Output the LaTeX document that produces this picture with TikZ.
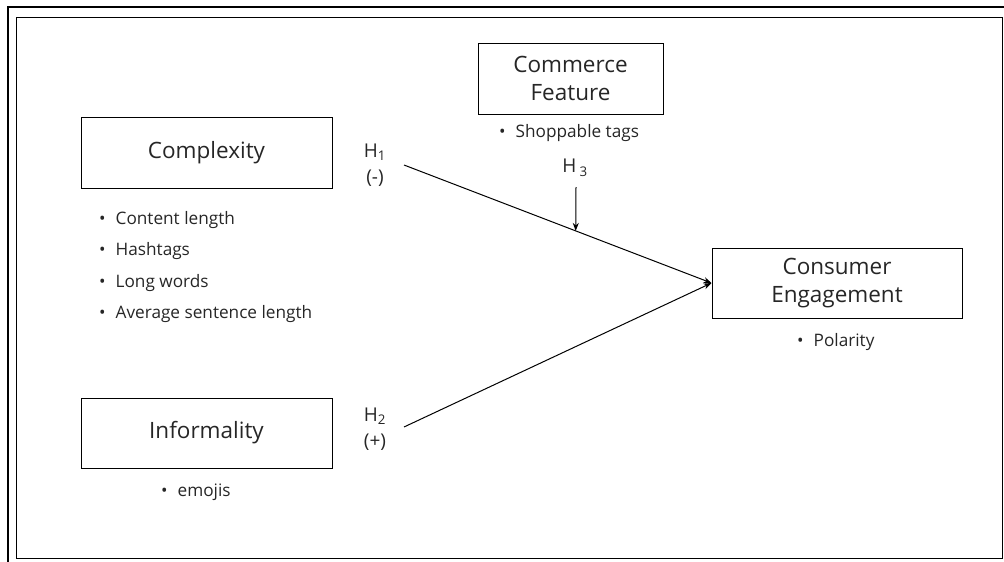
\documentclass[tikz,border=0pt]{standalone}
\usepackage{fontspec}
\setmainfont{Open Sans}
\usetikzlibrary{arrows.meta,calc}
\begin{document}
\begin{tikzpicture}[x=1pt,y=-1pt,
  box/.style={draw,line width=1pt,minimum width=#1,inner sep=0pt},
  big/.style={font=\fontsize{22.5}{28.5}\selectfont,text=black!85},
  small/.style={font=\fontsize{17.2}{20}\selectfont,text=black!85},
  conn/.style={line width=1pt,-{Stealth[length=8pt,width=6pt]}},
  hyp/.style={font=\fontsize{19}{26}\selectfont,align=center,text=black!85,inner sep=0pt}]
\useasboundingbox (0,0) rectangle (1004,562);
% frames
\draw[line width=2pt] (8,562) -- (8,7) -- (1004,7);
\draw[line width=0.8pt] (16,17) rectangle (1002,558);
% boxes
\node[box=251pt,minimum height=71pt,big] (cx) at (206.5,152.5) {Complexity};
\node[box=251pt,minimum height=70pt,big] (inf) at (206.5,433) {Informality};
\node[box=185pt,minimum height=71pt,big,align=center] (cf) at (570.5,78.5) {Commerce\\Feature};
\node[box=250pt,minimum height=70pt,big,align=center] (ce) at (837,283) {Consumer\\Engagement};
% bullet lists
\node[small,anchor=west,inner sep=0pt] (b1) at (99,220) {\textbullet\hspace{10pt}Content length};
\node[small,anchor=west,inner sep=0pt] (b2) at (99,251) {\textbullet\hspace{10pt}Hashtags};
\node[small,anchor=west,inner sep=0pt] (b3) at (99,283) {\textbullet\hspace{10pt}Long words};
\node[small,anchor=west,inner sep=0pt] (b4) at (99,314) {\textbullet\hspace{10pt}Average sentence length};
\node[small,anchor=west,inner sep=0pt] (b5) at (161,492) {\textbullet\hspace{10pt}emojis};
\node[small,anchor=west,inner sep=0pt] (b6) at (499,133) {\textbullet\hspace{10pt}Shoppable tags};
\node[small,anchor=west,inner sep=0pt] (b7) at (797,342) {\textbullet\hspace{10pt}Polarity};
% hypothesis labels
\node[hyp] (h1) at (375,165) {H\textsubscript{1}\\(-)};
\node[hyp] (h2) at (375,429) {H\textsubscript{2}\\(+)};
\node[hyp] (h3) at (575,168) {H\,\textsubscript{3}};
% connectors
\coordinate (s1) at (404,165);
\coordinate (s2) at (404,427);
\coordinate (e) at (ce.west);
\draw[conn] (s1) -- (e);
\draw[conn] (s2) -- (e);
\coordinate (t3) at (576,187);
\coordinate (m3) at ($(s1)!0.5584!(e)$);
\draw[conn] (t3) -- (m3);
\end{tikzpicture}
\end{document}
